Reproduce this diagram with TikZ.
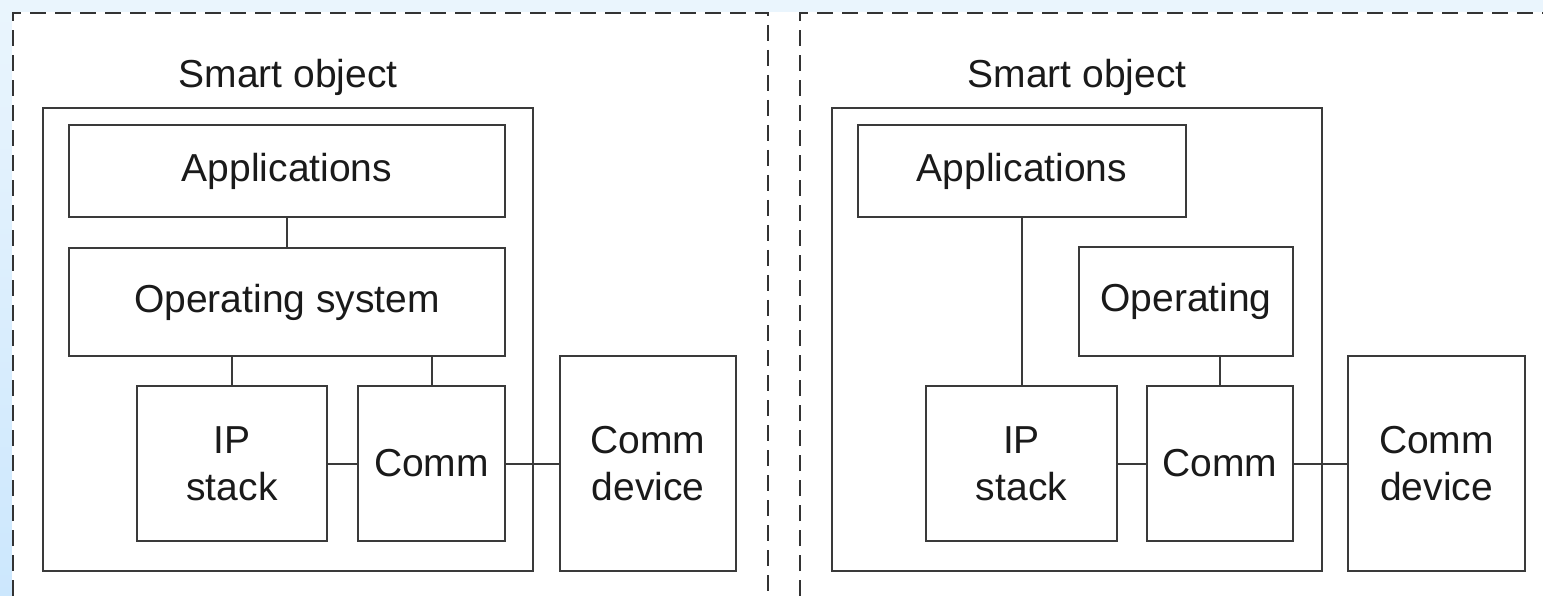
\documentclass[tikz,border=0pt]{standalone}
\usepackage{fontspec}
\setmainfont{Liberation Sans}
\definecolor{edgecol}{HTML}{3A3A3A}
\definecolor{textcol}{HTML}{1A1A1A}
\definecolor{framelight}{HTML}{EAF5FD}
\definecolor{framedeep}{HTML}{CCE7FD}
\definecolor{dashcol}{HTML}{333333}
\tikzset{
  block/.style={draw=edgecol, line width=2pt, fill=white, inner sep=0pt,
    text=textcol, align=center, font=\fontsize{39}{47}\selectfont},
  link/.style={draw=edgecol, line width=2pt},
  panel/.style={draw=dashcol, line width=2pt, dash pattern=on 16pt off 9pt},
  caption/.style={text=textcol, inner sep=0pt, anchor=base, font=\fontsize{39}{47}\selectfont}
}
\begin{document}
\begin{tikzpicture}[x=1pt, y=-1pt]
  \useasboundingbox (0,0) rectangle (1543,596);
  % page frame: tinted strips along the top and the left edge
  \fill[framelight] (0,0) rectangle (1543,596);
  \shade[top color=framelight, bottom color=framedeep] (0,0) rectangle (12,596);
  \fill[white] (12,12) rectangle (1543,596);

  % dashed panel outlines
  \draw[panel] (13,596) -- (13,13) -- (768,13) -- (768,596);
  \draw[panel] (800,596) -- (800,13) -- (1543,13);

  % ---------- left panel ----------
  \node[caption] (capL) at (288,88) {Smart object};
  \node[block, minimum width=490pt, minimum height=463pt] (outerL) at (288,339.5) {};
  \node[block, minimum width=436pt, minimum height=92pt] (appsL) at (287,171) {Applications};
  \node[block, minimum width=436pt, minimum height=108pt] (osL) at (287,302) {Operating system};
  \node[block, minimum width=190pt, minimum height=155pt] (ipL) at (232,463.5) {IP\\stack};
  \node[block, minimum width=147pt, minimum height=155pt] (commL) at (431.5,463.5) {Comm};
  \node[block, minimum width=176pt, minimum height=215pt] (devL) at (648,463.5) {Comm\\device};

  \draw[link] (appsL.south) -- (osL.north);
  \draw[link] (ipL.north) -- (ipL.north |- osL.south);
  \draw[link] (commL.north) -- (commL.north |- osL.south);
  \draw[link] (ipL.east) -- (commL.west);
  \draw[link] (commL.east) -- (devL.west);

  % ---------- right panel ----------
  \node[caption] (capR) at (1077,88) {Smart object};
  \node[block, minimum width=490pt, minimum height=463pt] (outerR) at (1077,339.5) {};
  \node[block, minimum width=328pt, minimum height=92pt] (appsR) at (1022,171) {Applications};
  \node[block, minimum width=214pt, minimum height=109pt] (osR) at (1186,301.5) {Operating};
  \node[block, minimum width=191pt, minimum height=155pt] (ipR) at (1021.5,463.5) {IP\\stack};
  \node[block, minimum width=146pt, minimum height=155pt] (commR) at (1220,463.5) {Comm};
  \node[block, minimum width=177pt, minimum height=215pt] (devR) at (1436.5,463.5) {Comm\\device};

  \draw[link] (ipR.north) -- (ipR.north |- appsR.south);
  \draw[link] (commR.north) -- (commR.north |- osR.south);
  \draw[link] (ipR.east) -- (commR.west);
  \draw[link] (commR.east) -- (devR.west);
\end{tikzpicture}
\end{document}
